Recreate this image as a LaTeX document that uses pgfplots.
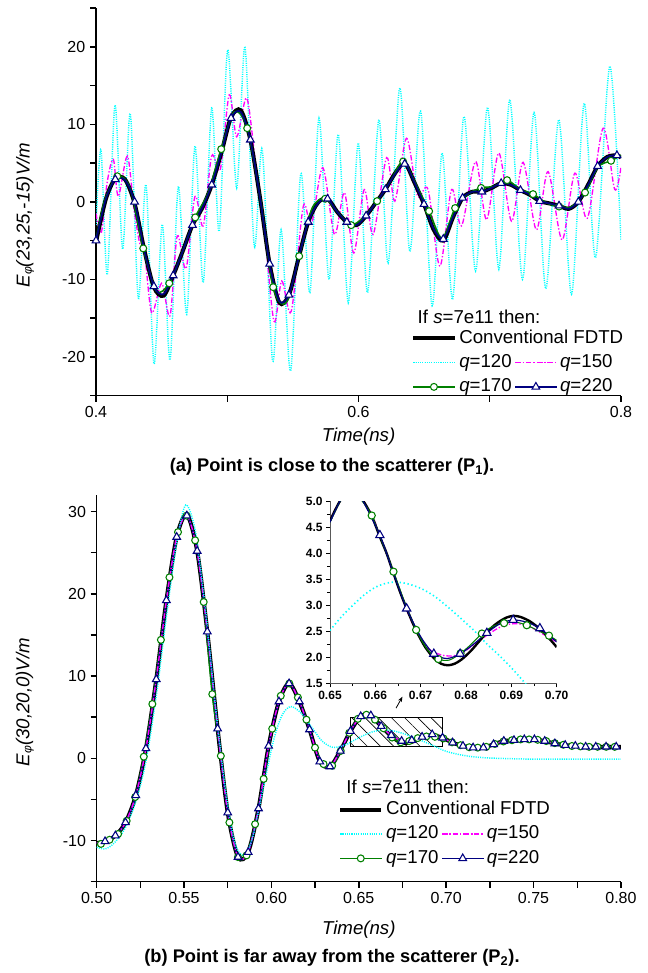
\documentclass[border=0pt]{standalone}
\usepackage{fontspec}
\setmainfont{Liberation Sans}
\usepackage{pgfplots}
\pgfplotsset{compat=1.18}
\usetikzlibrary{patterns.meta,arrows.meta}
\definecolor{qcyan}{RGB}{0,255,255}
\definecolor{qmag}{RGB}{255,0,255}
\definecolor{qgreen}{RGB}{0,128,0}
\definecolor{qnavy}{RGB}{0,0,128}
\pgfplotsset{
  mainax/.style={scale only axis, axis lines*=left, axis line style={line width=1.1pt},
    tick align=outside, major tick length=4.5pt, every tick/.style={black,line width=1.1pt},
    tick label style={font=\fontsize{12}{14}\selectfont},
    label style={font=\itshape\fontsize{14}{16}\selectfont},
    legend cell align=left,
    legend image code/.code={\draw[##1,mark repeat=2,mark phase=2] plot coordinates {(0pt,0pt) (15.5pt,0pt) (31pt,0pt)};},
  },
  cyanst/.style={qcyan, line width=1.1pt, dash pattern=on 0.8pt off 0.9pt, smooth},
  magst/.style={qmag, line width=1pt, dash pattern=on 4pt off 1.5pt on 1pt off 1.5pt, smooth},
  blkst/.style={black, line width=3pt, smooth},
  grnst/.style={qgreen, line width=1.2pt, smooth, mark=*, mark size=2.6pt, mark options={solid, fill=white, line width=0.8pt}},
  navst/.style={qnavy, line width=1.3pt, smooth, mark=triangle*, mark size=3.3pt, mark options={solid, fill=white, line width=0.8pt}},
  legst/.style={legend style={draw=none, fill=none, legend columns=2, font=\fontsize{14}{16}\selectfont,
    inner sep=0pt, row sep=0pt, column sep=0pt,
    nodes={inner xsep=2pt, inner ysep=2.1pt, text height=10.5pt, text depth=3.5pt}}},
}
\begin{document}
\begin{tikzpicture}
\useasboundingbox (0,0) rectangle (486pt,-729.75pt);
% ---------------- top panel ----------------
\begin{axis}[mainax, legst, at={(72pt,-296.8pt)}, anchor=south west,
  width=393.75pt, height=290.8pt,
  xmin=0.4, xmax=0.8, ymin=-25, ymax=25,
  xtick={0.4,0.5,0.6,0.7,0.8}, xticklabels={0.4,,0.6,,0.8},
  ytick={-25,-20,...,25}, yticklabels={,-20,,-10,,0,,10,,20,},
  xlabel={Time(ns)}, ylabel={E{\small\raisebox{-0.3ex}{φ}}(23,25,-15)V/m},
  xlabel style={at={(axis description cs:0.5,-0.1057)}, anchor=center},
  ylabel style={at={(axis description cs:-0.135,0.466)}, anchor=center},
  legend style={at={(0.6,0.18)}, anchor=north west}]
\addplot[cyanst, forget plot] coordinates {(0.4000,-3.0) (0.4038,6.7) (0.4086,-9.4) (0.4145,12.5) (0.4203,-6.1) (0.4261,11.4) (0.4322,-12.4) (0.4381,2.2) (0.4442,-20.9) (0.4505,-2.9) (0.4564,-20.4) (0.4627,2.0) (0.4691,-14.5) (0.4754,7.2) (0.4817,-10.4) (0.4881,12.1) (0.4939,-3.8) (0.5003,19.6) (0.5072,1.8) (0.5135,19.9) (0.5206,-5.7) (0.5267,6.7) (0.5346,-20.5) (0.5410,-3.6) (0.5483,-21.8) (0.5560,3.6) (0.5630,-11.7) (0.5699,10.8) (0.5775,-10.0) (0.5846,8.7) (0.5922,-13.0) (0.5998,7.6) (0.6069,-11.7) (0.6155,10.6) (0.6226,-7.9) (0.6315,14.7) (0.6391,-6.4) (0.6473,11.7) (0.6561,-13.4) (0.6637,6.3) (0.6717,-12.6) (0.6803,11.0) (0.6892,-8.9) (0.6983,12.2) (0.7069,-8.7) (0.7153,13.2) (0.7249,-10.0) (0.7338,11.5) (0.7427,-11.2) (0.7526,10.6) (0.7623,-11.9) (0.7719,12.7) (0.7806,-7.2) (0.7915,17.5) (0.8000,-5.0)};
\addplot[magst, forget plot] coordinates {(0.4000,-1.5) (0.4040,-4.0) (0.4085,2.5) (0.4132,5.5) (0.4170,0.7) (0.4239,5.9) (0.4290,-1.0) (0.4335,-5.5) (0.4370,-6.5) (0.4424,-14.3) (0.4500,-10.5) (0.4564,-14.7) (0.4619,-4.4) (0.4686,-8.6) (0.4754,0.7) (0.4817,-3.1) (0.4881,5.9) (0.4947,4.2) (0.5015,13.8) (0.5072,8.4) (0.5148,13.4) (0.5213,5.4) (0.5280,-3.0) (0.5356,-15.4) (0.5415,-10.2) (0.5488,-14.1) (0.5579,-0.6) (0.5640,-3.0) (0.5728,4.4) (0.5817,-4.2) (0.5893,1.2) (0.5964,-6.6) (0.6044,1.6) (0.6112,-4.2) (0.6214,5.7) (0.6277,0.1) (0.6366,8.2) (0.6450,0.8) (0.6530,1.6) (0.6620,-8.3) (0.6709,1.6) (0.6785,-3.1) (0.6892,5.2) (0.6976,-2.3) (0.7069,6.3) (0.7166,-2.5) (0.7254,5.1) (0.7355,-3.6) (0.7444,3.9) (0.7551,-4.9) (0.7648,3.7) (0.7744,-2.1) (0.7863,9.5) (0.7952,1.6) (0.8000,4.5)};
\addplot[blkst, forget plot] coordinates {(0.4000,-5.2)(0.4074,0.3)(0.4147,3.0)(0.4221,2.9)(0.4294,-0.2)(0.4368,-6.2)(0.4441,-11.0)(0.4515,-12.1)(0.4588,-9.5)(0.4662,-6.3)(0.4735,-3.0)(0.4809,-0.8)(0.4882,2.2)(0.4956,6.4)(0.5029,10.9)(0.5103,11.8)(0.5176,8.0)(0.5250,0.5)(0.5323,-8.0)(0.5397,-13.0)(0.5470,-12.0)(0.5544,-7.2)(0.5617,-2.6)(0.5691,-0.1)(0.5764,0.4)(0.5838,-1.3)(0.5911,-2.6)(0.5985,-3.0)(0.6058,-1.8)(0.6132,-0.1)(0.6205,1.6)(0.6279,3.7)(0.6352,5.0)(0.6426,2.5)(0.6499,-0.3)(0.6573,-3.6)(0.6646,-5.0)(0.6720,-2.0)(0.6793,0.5)(0.6867,1.3)(0.6940,1.3)(0.7014,1.8)(0.7087,2.4)(0.7161,2.2)(0.7234,1.5)(0.7308,0.9)(0.7381,0.1)(0.7455,-0.2)(0.7528,-0.5)(0.7602,-0.9)(0.7675,0.0)(0.7749,2.2)(0.7822,4.6)(0.7896,5.8)(0.7969,6.0)(0.8000,5.7)};
\addplot[grnst, mark repeat=2, mark phase=3, forget plot] coordinates {(0.4000,-5.0)(0.4063,0.0)(0.4162,3.3)(0.4261,1.7)(0.4360,-6.0)(0.4459,-11.5)(0.4558,-10.5)(0.4657,-6.5)(0.4756,-2.0)(0.4855,1.2)(0.4954,6.8)(0.5053,11.6)(0.5152,9.5)(0.5251,0.5)(0.5350,-11.0)(0.5449,-13.0)(0.5548,-7.0)(0.5647,-0.8)(0.5746,0.4)(0.5845,-1.4)(0.5944,-3.0)(0.6043,-1.9)(0.6142,0.1)(0.6241,2.6)(0.6340,5.2)(0.6439,2.2)(0.6538,-1.2)(0.6637,-4.7)(0.6736,-0.8)(0.6835,1.0)(0.6934,1.8)(0.7033,2.0)(0.7132,2.8)(0.7231,1.6)(0.7330,1.0)(0.7429,-0.1)(0.7528,-0.6)(0.7627,-0.6)(0.7726,1.2)(0.7825,4.5)(0.7924,5.3)(0.8000,6.0)};
\addplot[navst, mark repeat=2, mark phase=1, forget plot] coordinates {(0.4000,-5.0)(0.4074,0.3)(0.4147,2.9)(0.4221,2.8)(0.4294,0.0)(0.4368,-6.2)(0.4441,-10.9)(0.4515,-11.9)(0.4588,-9.5)(0.4662,-6.3)(0.4735,-3.0)(0.4809,-0.8)(0.4882,2.2)(0.4956,6.4)(0.5029,10.8)(0.5103,11.6)(0.5176,8.0)(0.5250,0.5)(0.5323,-8.0)(0.5397,-12.8)(0.5470,-12.0)(0.5544,-7.2)(0.5617,-2.6)(0.5691,-0.2)(0.5764,0.4)(0.5838,-1.3)(0.5911,-2.6)(0.5985,-3.0)(0.6058,-1.8)(0.6132,-0.1)(0.6205,1.6)(0.6279,3.6)(0.6352,4.9)(0.6426,2.5)(0.6499,-0.3)(0.6573,-3.5)(0.6646,-4.8)(0.6720,-2.0)(0.6793,0.5)(0.6867,1.3)(0.6940,1.3)(0.7014,1.8)(0.7087,2.4)(0.7161,2.2)(0.7234,1.5)(0.7308,0.9)(0.7381,0.1)(0.7455,-0.2)(0.7528,-0.5)(0.7602,-0.9)(0.7675,0.0)(0.7749,2.2)(0.7822,4.6)(0.7896,5.8)(0.7969,6.0)(0.8000,5.7)};
\addlegendimage{black, line width=3pt}
\addlegendentry{\makebox[0pt][l]{Conventional FDTD}}
\addlegendimage{empty legend}
\addlegendentry{}
\addlegendimage{cyanst}
\addlegendentry{\textit{q}=120}
\addlegendimage{magst}
\addlegendentry{\textit{q}=150}
\addlegendimage{grnst}
\addlegendentry{\textit{q}=170}
\addlegendimage{navst}
\addlegendentry{\textit{q}=220}
\end{axis}
\node[anchor=west, font=\fontsize{14}{16}\selectfont] at (309.75pt,-237.75pt) {If \textit{s}=7e11 then:};
\node[font=\bfseries\fontsize{13.7}{16}\selectfont] at (249pt,-350.25pt) {(a) Point is close to the scatterer (P\textsubscript{1}).};
% ---------------- bottom panel ----------------
\begin{axis}[mainax, legst, at={(72.5pt,-661.3pt)}, anchor=south west,
  width=393.2pt, height=290pt,
  xmin=0.5, xmax=0.8, ymin=-15, ymax=32,
  xtick={0.5,0.525,...,0.8}, xticklabels={0.50,,0.55,,0.60,,0.65,,0.70,,0.75,,0.80},
  ytick={-15,-10,...,30}, yticklabels={,-10,,0,,10,,20,,30},
  xlabel={Time(ns)}, ylabel={E{\small\raisebox{-0.3ex}{φ}}(30,20,0)V/m},
  xlabel style={at={(axis description cs:0.5,-0.125)}, anchor=center},
  ylabel style={at={(axis description cs:-0.137,0.465)}, anchor=center},
  legend style={at={(0.46,0.218)}, anchor=north west}]
\draw[line width=0.6pt, pattern={Lines[angle=-45,distance=7pt,line width=0.5pt]}] (axis cs:0.645,1.5) rectangle (axis cs:0.698,5);
\draw[-{Stealth[length=4pt]}, line width=0.6pt] (axis cs:0.6713,6.1) -- (axis cs:0.6750,7.5);
\addplot[blkst, forget plot] coordinates {(0.5000,-10.3)(0.5048,-10.1)(0.5107,-9.4)(0.5165,-7.8)(0.5224,-4.5)(0.5282,1.2)(0.5341,9.6)(0.5399,19.2)(0.5458,26.9)(0.5516,29.6)(0.5575,25.2)(0.5633,15.4)(0.5692,3.6)(0.5750,-6.6)(0.5809,-12.0)(0.5867,-11.4)(0.5926,-6.1)(0.5984,1.5)(0.6043,6.9)(0.6101,9.1)(0.6160,6.9)(0.6218,3.5)(0.6277,-0.4)(0.6335,-1.0)(0.6394,0.9)(0.6452,3.3)(0.6511,5.1)(0.6569,5.2)(0.6628,3.9)(0.6686,2.7)(0.6745,1.9)(0.6803,2.0)(0.6862,2.55)(0.6920,2.8)(0.6979,2.5)(0.7037,1.9)(0.7096,1.5)(0.7154,1.3)(0.7213,1.3)(0.7271,1.7)(0.7330,2.1)(0.7388,2.2)(0.7447,2.3)(0.7505,2.3)(0.7564,2.1)(0.7622,1.8)(0.7681,1.6)(0.7739,1.5)(0.7798,1.4)(0.7856,1.4)(0.7915,1.4)(0.7973,1.4)(0.8000,1.4)};
\addplot[grnst, mark repeat=1, mark phase=2, forget plot] coordinates {(0.5000,-10.5)(0.50245,-10.4)(0.50735,-9.9)(0.51225,-9.2)(0.51715,-7.6)(0.52205,-4.7)(0.52695,0.2)(0.53185,6.6)(0.53675,14.4)(0.54165,22.0)(0.54655,27.5)(0.55145,29.5)(0.55635,26.5)(0.56125,19.0)(0.56615,7.8)(0.57105,0.3)(0.57595,-7.8)(0.58085,-12.0)(0.58575,-11.8)(0.59065,-8.0)(0.59555,-2.5)(0.60045,3.6)(0.60535,7.6)(0.61025,9.1)(0.61515,7.4)(0.62005,4.7)(0.62495,1.3)(0.62985,-0.7)(0.63475,-0.9)(0.63965,0.9)(0.64455,3.1)(0.64945,4.8)(0.65435,5.3)(0.65925,4.7)(0.66415,3.65)(0.66905,2.53)(0.67395,1.94)(0.67885,2.1)(0.68375,2.46)(0.68865,2.66)(0.69355,2.62)(0.69845,2.42)(0.70335,1.95)(0.70825,1.6)(0.71315,1.35)(0.71805,1.3)(0.72295,1.4)(0.72785,1.75)(0.73275,2.05)(0.73765,2.2)(0.74255,2.3)(0.74745,2.3)(0.75235,2.25)(0.75725,2.1)(0.76215,1.85)(0.76705,1.65)(0.77195,1.5)(0.77685,1.45)(0.78175,1.4)(0.78665,1.4)(0.79155,1.4)(0.79645,1.4)};
\addplot[navst, mark repeat=1, mark phase=2, forget plot] coordinates {(0.5000,-10.3)(0.5048,-10.1)(0.5107,-9.4)(0.5165,-7.8)(0.5224,-4.5)(0.5282,1.2)(0.5341,9.6)(0.5399,19.2)(0.5458,26.9)(0.5516,29.5)(0.5575,25.2)(0.5633,15.4)(0.5692,3.6)(0.5750,-6.6)(0.5809,-12.0)(0.5867,-11.4)(0.5926,-6.1)(0.5984,1.5)(0.6043,6.9)(0.6101,9.1)(0.6160,6.9)(0.6218,3.5)(0.6277,-0.4)(0.6335,-1.0)(0.6394,0.9)(0.6452,3.3)(0.6511,5.1)(0.6569,5.2)(0.6628,3.9)(0.6686,2.8)(0.6745,2.1)(0.6803,2.2)(0.6862,2.6)(0.6920,2.9)(0.6979,2.5)(0.7037,1.9)(0.7096,1.5)(0.7154,1.3)(0.7213,1.3)(0.7271,1.7)(0.7330,2.1)(0.7388,2.2)(0.7447,2.3)(0.7505,2.3)(0.7564,2.1)(0.7622,1.8)(0.7681,1.6)(0.7739,1.5)(0.7798,1.4)(0.7856,1.4)(0.7915,1.4)(0.7973,1.4)};
\addplot[magst, forget plot] coordinates {(0.5000,-10.3)(0.5048,-10.1)(0.5107,-9.4)(0.5165,-7.8)(0.5224,-4.5)(0.5282,1.2)(0.5341,9.6)(0.5399,19.2)(0.5458,26.9)(0.5516,29.5)(0.5575,25.2)(0.5633,15.4)(0.5692,3.6)(0.5750,-6.6)(0.5809,-12.0)(0.5867,-11.4)(0.5926,-6.1)(0.5984,1.5)(0.6043,6.9)(0.6101,9.1)(0.6160,6.9)(0.6218,3.5)(0.6277,-0.4)(0.6335,-1.0)(0.6394,0.9)(0.6452,3.3)(0.6511,5.1)(0.6569,5.2)(0.6628,3.9)(0.6686,2.8)(0.6745,2.15)(0.6803,2.25)(0.6862,2.5)(0.6920,2.65)(0.6979,2.45)(0.7037,1.9)(0.7096,1.5)(0.7154,1.3)(0.7213,1.3)(0.7271,1.7)(0.7330,2.1)(0.7388,2.2)(0.7447,2.3)(0.7505,2.3)(0.7564,2.1)(0.7622,1.8)(0.7681,1.6)(0.7739,1.5)(0.7798,1.4)(0.7856,1.4)(0.7915,1.4)(0.7973,1.4)(0.8000,1.4)};
\addplot[cyanst, forget plot] coordinates {(0.5000,-10.8) (0.5050,-11.0) (0.5100,-10.3) (0.5160,-8.6) (0.5220,-5.5) (0.5280,-0.6) (0.5340,7.4) (0.5400,17.4) (0.5460,26.4) (0.5510,30.8) (0.5565,27.6) (0.5620,18.6) (0.5680,6.4) (0.5740,-4.2) (0.5790,-10.2) (0.5840,-11.8) (0.5890,-9.8) (0.5950,-4.0) (0.6010,2.0) (0.6060,5.2) (0.6110,6.3) (0.6170,5.5) (0.6230,3.8) (0.6290,2.1) (0.6350,1.35) (0.6420,1.6) (0.6500,2.5) (0.6575,3.2) (0.6645,3.45) (0.6700,3.33) (0.6760,2.97) (0.6820,2.5) (0.6870,2.05) (0.6926,1.55) (0.7000,0.85) (0.7100,0.35) (0.7200,0.1) (0.7300,0.0) (0.7500,-0.1) (0.7750,-0.1) (0.8000,-0.1)};
\addlegendimage{black, line width=3pt}
\addlegendentry{\makebox[0pt][l]{Conventional FDTD}}
\addlegendimage{empty legend}
\addlegendentry{}
\addlegendimage{cyanst}
\addlegendentry{\textit{q}=120}
\addlegendimage{magst}
\addlegendentry{\textit{q}=150}
\addlegendimage{grnst}
\addlegendentry{\textit{q}=170}
\addlegendimage{navst}
\addlegendentry{\textit{q}=220}
\end{axis}
\node[anchor=west, font=\fontsize{14}{16}\selectfont] at (256.3pt,-590pt) {If \textit{s}=7e11 then:};
\node[font=\bfseries\fontsize{13.7}{16}\selectfont] at (249pt,-718.5pt) {(b) Point is far away from the scatterer (P\textsubscript{2}).};
% ---------------- inset ----------------
\begin{axis}[scale only axis, at={(247.5pt,-512.6pt)}, anchor=south west,
  width=170pt, height=136.5pt,
  xmin=0.65, xmax=0.70, ymin=1.5, ymax=5.0,
  axis lines*=left, axis line style={gray!70!black, line width=0.6pt},
  tick align=outside, major tick length=3pt, minor tick length=2pt,
  every tick/.style={black, line width=0.5pt},
  xtick={0.65,0.66,0.67,0.68,0.69,0.70}, xticklabels={0.65,0.66,0.67,0.68,0.69,0.70},
  ytick={1.5,2.0,2.5,3.0,3.5,4.0,4.5,5.0}, yticklabels={1.5,2.0,2.5,3.0,3.5,4.0,4.5,5.0},
  minor x tick num=1, minor y tick num=1,
  tick label style={font=\bfseries\fontsize{9}{10}\selectfont},
  xticklabel style={yshift=1pt}, yticklabel style={xshift=1pt},
  axis background/.style={fill=white}]
\addplot[cyanst, line width=1.2pt, dash pattern=on 1pt off 2pt] coordinates {(0.6500,2.52) (0.6525,2.78) (0.6550,3.0) (0.6575,3.2) (0.6600,3.35) (0.6625,3.43) (0.6645,3.45) (0.6670,3.42) (0.6700,3.33) (0.6730,3.18) (0.6760,2.97) (0.6794,2.71) (0.6820,2.5) (0.6846,2.26) (0.6872,2.05) (0.6897,1.83) (0.6926,1.55) (0.6950,1.3) (0.7000,0.85)};
\addplot[magst] coordinates {(0.6500,4.65) (0.6525,5.05) (0.6550,5.2) (0.6570,5.05) (0.6592,4.75) (0.6610,4.35) (0.6640,3.62) (0.6670,2.9) (0.6690,2.5) (0.6710,2.22) (0.6730,2.1) (0.6750,2.04) (0.6770,2.03) (0.6790,2.08) (0.6810,2.2) (0.6830,2.33) (0.6850,2.45) (0.6870,2.56) (0.6890,2.63) (0.6910,2.65) (0.6930,2.62) (0.6950,2.55) (0.6970,2.45) (0.7000,2.3)};
\addplot[black, line width=1.8pt, smooth] coordinates {(0.6500,4.63) (0.6525,5.05) (0.6548,5.2) (0.6570,5.05) (0.6592,4.72) (0.6610,4.32) (0.6625,4.0) (0.6640,3.62) (0.6655,3.25) (0.6670,2.92) (0.6690,2.52) (0.6710,2.2) (0.6730,1.98) (0.6745,1.88) (0.6760,1.85) (0.6775,1.88) (0.6790,1.96) (0.6810,2.12) (0.6830,2.32) (0.6850,2.52) (0.6870,2.67) (0.6890,2.77) (0.6905,2.8) (0.6920,2.78) (0.6940,2.7) (0.6960,2.57) (0.6980,2.4) (0.7000,2.2)};
\addplot[qgreen, line width=0.8pt, smooth] coordinates {(0.6500,4.6) (0.6525,5.05) (0.6545,5.2) (0.6570,5.02) (0.6592,4.73) (0.6616,4.2) (0.6640,3.65) (0.6665,3.05) (0.6690,2.53) (0.6715,2.15) (0.6739,1.97) (0.6763,1.95) (0.6788,2.08) (0.6811,2.25) (0.6835,2.46) (0.6860,2.6) (0.6884,2.66) (0.6909,2.68) (0.6934,2.62) (0.6958,2.52) (0.6983,2.42) (0.7000,2.33)};
\addplot[qgreen, only marks, mark=*, mark size=2.7pt, mark options={fill=white, line width=0.8pt}] coordinates {(0.6592,4.73) (0.6640,3.65) (0.6690,2.53) (0.6739,1.97) (0.6788,2.08) (0.6835,2.46) (0.6884,2.66) (0.6934,2.62) (0.6983,2.42)};
\addplot[qnavy, line width=0.9pt, smooth] coordinates {(0.6500,4.6) (0.6525,5.05) (0.6550,5.2) (0.6570,5.05) (0.6610,4.35) (0.6640,3.62) (0.6669,2.94) (0.6700,2.4) (0.6729,2.07) (0.6758,1.98) (0.6787,2.07) (0.6816,2.25) (0.6846,2.47) (0.6875,2.65) (0.6904,2.72) (0.6933,2.68) (0.6963,2.56) (0.7000,2.3)};
\addplot[qnavy, only marks, mark=triangle*, mark size=3.6pt, mark options={fill=white, line width=0.8pt}] coordinates {(0.6610,4.35) (0.6669,2.94) (0.6729,2.07) (0.6787,2.07) (0.6846,2.47) (0.6904,2.72) (0.6963,2.56)};
\end{axis}
\end{tikzpicture}
\end{document}
